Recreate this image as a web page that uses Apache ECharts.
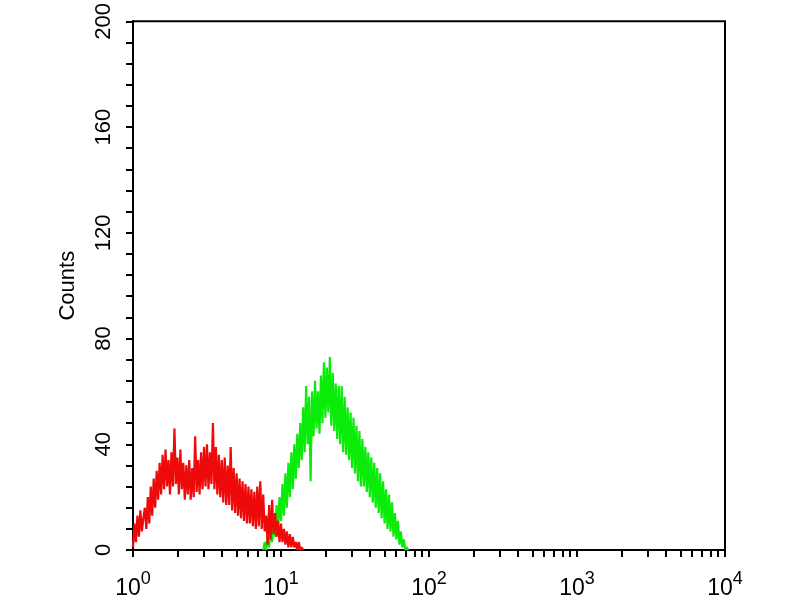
<!DOCTYPE html>
<html>
<head>
<meta charset="utf-8">
<script src="https://cdn.jsdelivr.net/npm/echarts@6/dist/echarts.min.js"></script>
<style>
  html, body { margin: 0; padding: 0; background: #fff; }
  #chart { width: 800px; height: 600px; }
</style>
</head>
<body>
<div id="chart"></div>
<script>
// histogram channels: 100 channels per decade, channel c sits at 10^(c/100)
const channelsPerDecade = 100;

// red (control) histogram, from channel 0
const redStart = 0;
const redCounts = [
    1, 10, 3, 13, 5, 15, 7, 12, 16, 8,
    20, 10, 24, 13, 27, 16, 30, 19, 33, 21,
    36, 23, 38, 24, 34, 21, 37, 24, 46, 25,
    35, 21, 38, 23, 33, 19, 32, 21, 34, 19,
    31, 20, 43, 22, 34, 21, 37, 23, 39, 24,
    40, 23, 37, 25, 48, 23, 39, 21, 36, 20,
    34, 18, 35, 17, 32, 17, 39, 15, 31, 14,
    29, 13, 27, 12, 26, 11, 25, 10, 24, 10,
    23, 9, 22, 8, 24, 9, 26, 8, 21, 7,
    13, 2, 17, 4, 19, 6, 14, 5, 11, 3,
    10, 3, 8, 2, 7, 1, 6, 1, 5, 1,
    3, 0, 3, 0, 1, 0
];

// green (stained) histogram, from channel 88
const greenStart = 88;
const greenCounts = [
    0, 3,
    0, 6, 1, 9, 3, 13, 5, 17, 8, 20,
    11, 25, 13, 29, 16, 33, 20, 37, 23, 40,
    27, 44, 31, 48, 34, 54, 37, 62, 40, 58,
    26, 60, 43, 64, 46, 60, 44, 66, 48, 71,
    50, 69, 52, 73, 47, 67, 45, 63, 42, 62,
    40, 62, 37, 58, 36, 54, 34, 52, 31, 50,
    29, 47, 26, 45, 24, 42, 24, 39, 22, 37,
    20, 35, 18, 33, 16, 31, 14, 29, 12, 26,
    10, 23, 8, 21, 7, 18, 5, 14, 4, 11,
    2, 7, 1, 4, 0, 1, 0
];

// axis ticks
const xDecades = [1, 10, 100, 1000, 10000];
const xTickValues = [
    1, 2, 3, 4, 5, 6, 7, 8, 9,
    10, 20, 30, 40, 50, 60, 70, 80, 90,
    100, 200, 300, 400, 500, 600, 700, 800, 900,
    1000, 2000, 3000, 4000, 5000, 6000, 7000, 8000, 9000,
    10000
];
const yTicks = [0, 40, 80, 120, 160, 200];

function toPoints(start, counts) {
    return counts.map((c, k) => [Math.pow(10, (start + k) / channelsPerDecade), c]);
}

const chart = echarts.init(document.getElementById('chart'));
chart.setOption({
    animation: false,
    backgroundColor: '#fff',
    grid: {
        left: 133, top: 21, right: 75, bottom: 48,
        show: true, borderColor: '#000', borderWidth: 2
    },
    xAxis: {
        type: 'log',
        logBase: 10,
        min: 1,
        max: 10000,
        axisLine: { show: true, onZero: false, lineStyle: { color: '#000', width: 2 } },
        axisTick: { show: true, inside: false, length: 7, lineStyle: { color: '#000', width: 2 }, customValues: xTickValues },
        minorTick: { show: false },
        splitLine: { show: false },
        axisLabel: {
            margin: 20,
            customValues: xDecades,
            formatter: v => '{b|10}{s|' + Math.round(Math.log10(v)) + '}',
            rich: {
                b: { fontFamily: 'Liberation Sans', fontSize: 23, color: '#000', verticalAlign: 'bottom', lineHeight: 30 },
                s: { fontFamily: 'Liberation Sans', fontSize: 18, color: '#000', verticalAlign: 'top', lineHeight: 30, padding: [0, 0, 12, 0] }
            }
        }
    },
    yAxis: {
        type: 'value',
        min: 0,
        max: 200,
        interval: 40,
        name: 'Counts',
        nameLocation: 'middle',
        nameGap: 54,
        nameRotate: 90,
        nameTextStyle: { fontFamily: 'Liberation Sans', fontSize: 22, color: '#000' },
        axisLine: { show: true, lineStyle: { color: '#000', width: 2 } },
        axisTick: { show: true, inside: false, length: 7, lineStyle: { color: '#000', width: 2 } },
        minorTick: { show: true, splitNumber: 5, length: 7, lineStyle: { color: '#000', width: 2 } },
        splitLine: { show: false },
        axisLabel: {
            rotate: 90,
            margin: 18,
            fontFamily: 'Liberation Sans',
            fontSize: 22,
            color: '#000',
            customValues: yTicks
        }
    },
    series: [
        {
            name: 'green',
            type: 'line',
            showSymbol: false,
            data: toPoints(greenStart, greenCounts),
            lineStyle: { color: 'rgb(10,235,10)', width: 2.2 },
            z: 2
        },
        {
            name: 'red',
            type: 'line',
            showSymbol: false,
            data: toPoints(redStart, redCounts),
            lineStyle: { color: 'rgb(238,10,10)', width: 2.2 },
            z: 3
        }
    ]
});
</script>
</body>
</html>
